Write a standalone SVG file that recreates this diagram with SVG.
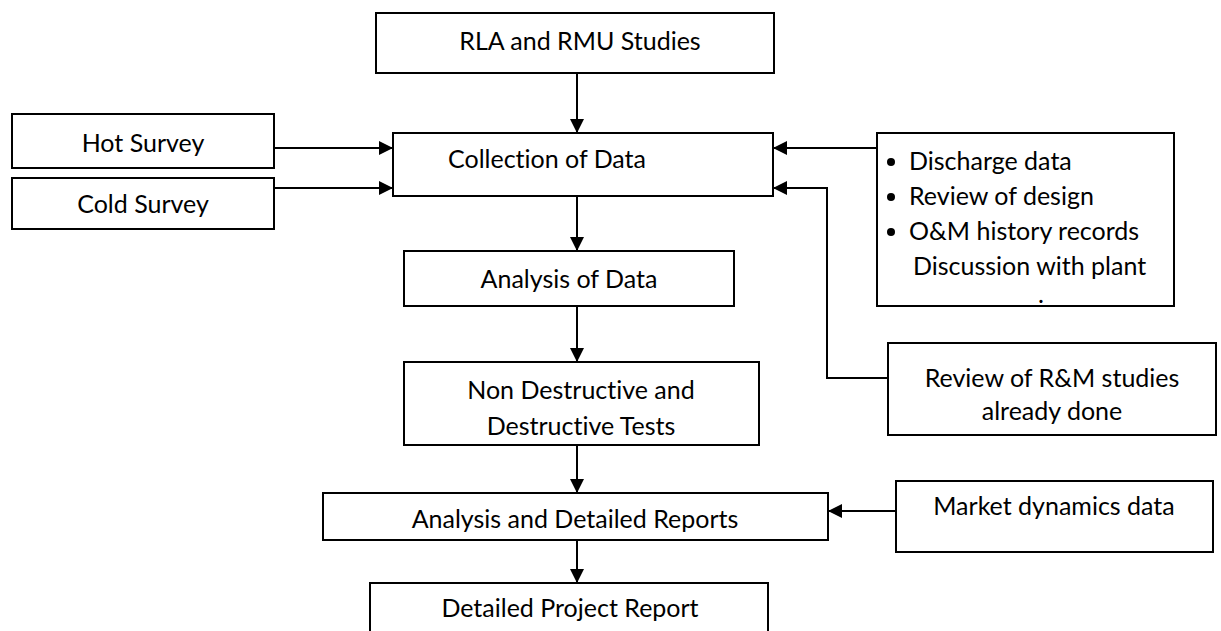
<svg xmlns="http://www.w3.org/2000/svg" width="1221" height="631" viewBox="0 0 1221 631">
<style>
.box{fill:#fff;stroke:#000;stroke-width:2}
.t{font-family:Lato,"Liberation Sans",sans-serif;font-size:25px;fill:#000;font-variant-ligatures:none;font-feature-settings:"liga" 0}
.c{text-anchor:middle}
.ln{fill:none;stroke:#000;stroke-width:2}
</style>
<defs>
<marker id="ah" viewBox="0 0 14 14" refX="14" refY="7" markerWidth="14" markerHeight="14" markerUnits="userSpaceOnUse" orient="auto">
<path d="M0,0 L14,7 L0,14 z" fill="#000"/>
</marker>
</defs>
<rect width="1221" height="631" fill="#fff"/>
<g id="connectors">
<line class="ln" x1="577" y1="73" x2="577" y2="133" marker-end="url(#ah)"/>
<line class="ln" x1="274" y1="148" x2="393" y2="148" marker-end="url(#ah)"/>
<line class="ln" x1="274" y1="188" x2="393" y2="188" marker-end="url(#ah)"/>
<line class="ln" x1="877" y1="148" x2="773" y2="148" marker-end="url(#ah)"/>
<polyline class="ln" points="888,378 827,378 827,188 773,188" marker-end="url(#ah)"/>
<line class="ln" x1="577" y1="196" x2="577" y2="251" marker-end="url(#ah)"/>
<line class="ln" x1="577" y1="306" x2="577" y2="362" marker-end="url(#ah)"/>
<line class="ln" x1="577" y1="445" x2="577" y2="493" marker-end="url(#ah)"/>
<line class="ln" x1="896" y1="511" x2="828" y2="511" marker-end="url(#ah)"/>
<line class="ln" x1="577" y1="540" x2="577" y2="583" marker-end="url(#ah)"/>
</g>
<g id="rla"><rect class="box" x="376" y="13" width="398" height="60"/><text class="t c" x="580" y="50">RLA and RMU Studies</text></g>
<g id="hot"><rect class="box" x="12" y="114" width="262" height="54"/><text class="t c" x="143" y="152">Hot Survey</text></g>
<g id="cold"><rect class="box" x="12" y="178" width="262" height="51"/><text class="t c" x="143" y="213">Cold Survey</text></g>
<g id="collection"><rect class="box" x="393" y="133" width="380" height="63"/><text class="t" x="448" y="168">Collection of Data</text></g>
<g id="inputs"><rect class="box" x="877" y="133" width="297" height="173"/>
<circle cx="891" cy="162" r="4"/><text class="t" x="909" y="170">Discharge data</text>
<circle cx="891" cy="197" r="4"/><text class="t" x="909" y="205">Review of design</text>
<circle cx="891" cy="232" r="4"/><text class="t" x="909" y="240">O&amp;M history records</text>
<text class="t" x="913" y="275">Discussion with plant</text>
<text class="t" x="1038" y="303">.</text></g>
<g id="analysis"><rect class="box" x="404" y="251" width="330" height="55"/><text class="t c" x="569" y="288">Analysis of Data</text></g>
<g id="review"><rect class="box" x="888" y="343" width="328" height="92"/><text class="t c" x="1052" y="387">Review of R&amp;M studies</text><text class="t c" x="1052" y="420">already done</text></g>
<g id="ndt"><rect class="box" x="404" y="362" width="355" height="83"/><text class="t c" x="581" y="399">Non Destructive and</text><text class="t c" x="581" y="435">Destructive Tests</text></g>
<g id="market"><rect class="box" x="896" y="481" width="317" height="71"/><text class="t c" x="1054" y="515">Market dynamics data</text></g>
<g id="reports"><rect class="box" x="323" y="493" width="505" height="47"/><text class="t c" x="575" y="528">Analysis and Detailed Reports</text></g>
<g id="dpr"><rect class="box" x="370" y="583" width="398" height="60"/><text class="t c" x="570" y="617">Detailed Project Report</text></g>
</svg>
